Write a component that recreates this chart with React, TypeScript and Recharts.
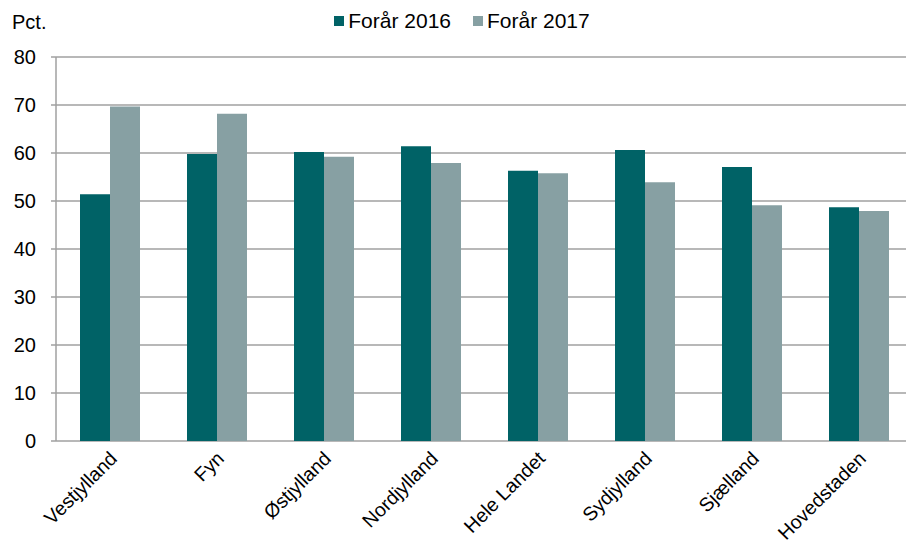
import { BarChart, Bar, XAxis, YAxis, CartesianGrid, Legend } from "recharts";

const categories = [
  "Vestjylland",
  "Fyn",
  "Østjylland",
  "Nordjylland",
  "Hele Landet",
  "Sydjylland",
  "Sjælland",
  "Hovedstaden",
];
const spring2016 = [51.4, 59.8, 60.2, 61.4, 56.3, 60.6, 57.1, 48.7];
const spring2017 = [69.7, 68.2, 59.2, 57.9, 55.8, 53.9, 49.1, 47.9];
const seriesNames = ["Forår 2016", "Forår 2017"];
const seriesColors = ["#006266", "#87A0A3"];
const yTicks = [0, 10, 20, 30, 40, 50, 60, 70, 80];
const edgeTicks = [0, 1, 2, 3, 4, 5, 6, 7, 8];

const data = categories.map((name, i) => ({
  name,
  pos: i + 0.5,
  a: spring2016[i],
  b: spring2017[i],
}));

const FONT = '"Liberation Sans", Arial, sans-serif';
const GRAY = "#A0A0A0";

const LegendContent = () => (
  <div style={{ display: "flex", justifyContent: "center", alignItems: "center", fontSize: 21, color: "#000", paddingLeft: 12 }}>
    {seriesNames.map((s, i) => (
      <div key={s} style={{ display: "flex", alignItems: "center", marginRight: i === 0 ? 22 : 0 }}>
        <span style={{ width: 10, height: 10, background: seriesColors[i], display: "inline-block", marginRight: 4 }} />
        <span>{s}</span>
      </div>
    ))}
  </div>
);

export default function App() {
  return (
    <div
      style={{
        position: "absolute",
        left: 0,
        top: 0,
        width: 906,
        height: 547,
        overflow: "hidden",
        background: "#fff",
        fontFamily: FONT,
      }}
    >
      <div style={{ position: "absolute", left: 12, top: 11, fontSize: 20 }}>Pct.</div>
      <BarChart
        width={912}
        height={547}
        data={data}
        margin={{ top: 57, right: 0, left: 0, bottom: 0 }}
        barSize={30}
        barGap={0}
        style={{ fontFamily: FONT }}
      >
        <CartesianGrid vertical={false} stroke={GRAY} strokeWidth={1.5} yAxisId="y" xAxisId="cat" />
        <XAxis
          xAxisId="edges"
          type="number"
          dataKey="pos"
          domain={[0, 8]}
          ticks={edgeTicks}
          allowDataOverflow
          tick={() => <g />}
          tickLine={{ stroke: GRAY, strokeWidth: 1.5 }}
          tickSize={6}
          height={0}
          stroke={GRAY}
          strokeWidth={1.5}
        />
        <XAxis
          xAxisId="cat"
          dataKey="name"
          axisLine={false}
          tickLine={false}
          interval={0}
          height={106}
          angle={-45}
          textAnchor="end"
          tickMargin={3}
          dx={-1}
          tick={{ fontSize: 19.5, fill: "#000", fontFamily: FONT }}
        />
        <YAxis
          yAxisId="y"
          width={56}
          domain={[0, 80]}
          ticks={yTicks}
          tickSize={5}
          tickMargin={15}
          stroke={GRAY}
          strokeWidth={1.5}
          tick={{ fontSize: 20, fill: "#000", fontFamily: FONT }}
        />
        <Legend verticalAlign="middle" align="center" wrapperStyle={{ top: 9, left: 0, width: 912 }} content={<LegendContent />} />
        <Bar dataKey="a" name={seriesNames[0]} xAxisId="cat" yAxisId="y" fill={seriesColors[0]} isAnimationActive={false} />
        <Bar dataKey="b" name={seriesNames[1]} xAxisId="cat" yAxisId="y" fill={seriesColors[1]} isAnimationActive={false} />
      </BarChart>
    </div>
  );
}
